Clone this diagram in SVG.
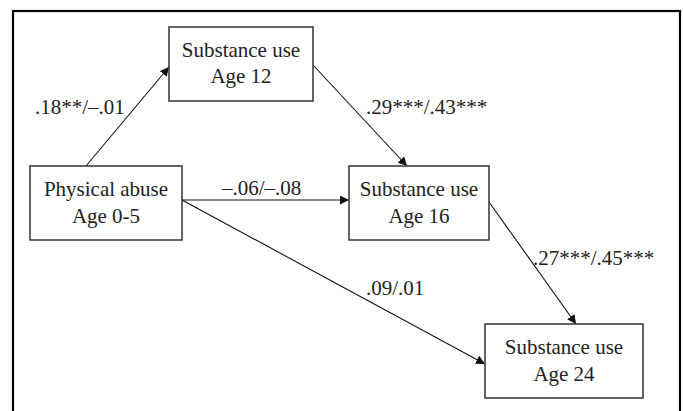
<svg xmlns="http://www.w3.org/2000/svg" width="683" height="411" viewBox="0 0 683 411">
<defs>
<marker id="ah" viewBox="0 0 10 10" refX="10" refY="5" markerWidth="9" markerHeight="9" markerUnits="userSpaceOnUse" orient="auto">
<path d="M0,0 L10,5 L0,10 Z" fill="#111"/>
</marker>
<style>
.box{fill:#fff;stroke:#333;stroke-width:1.5}
text{font-family:"Liberation Serif","Times New Roman","DejaVu Serif",serif;font-size:21px;fill:#222}
.t{text-anchor:middle}
.edge{stroke:#111;stroke-width:1.1;fill:none;marker-end:url(#ah)}
</style>
</defs>
<rect width="683" height="411" fill="#fff"/>
<rect x="13" y="11" width="667" height="420" fill="none" stroke="#000" stroke-width="2.2"/>
<g id="connectors">
<line class="edge" x1="86" y1="166" x2="169" y2="67"/>
<line class="edge" x1="313" y1="65" x2="407" y2="166"/>
<line class="edge" x1="182" y1="200" x2="349" y2="200"/>
<line class="edge" x1="182" y1="200" x2="485" y2="364"/>
<line class="edge" x1="489" y1="202" x2="576" y2="324"/>
</g>
<g id="labels" font-family="Liberation Serif, serif">
<text x="35" y="114">.18**/–.01</text>
<text x="366" y="114">.29***/.43***</text>
<text x="222" y="195">–.06/–.08</text>
<text x="533" y="265">.27***/.45***</text>
<text x="366" y="295">.09/.01</text>
</g>
<g id="n-age12" font-family="Liberation Serif, serif">
<rect class="box" x="169" y="27" width="144" height="74"/>
<text class="t" x="241" y="57">Substance use</text>
<text class="t" x="241" y="83">Age 12</text>
</g>
<g id="n-abuse" font-family="Liberation Serif, serif">
<rect class="box" x="30" y="166" width="152" height="74"/>
<text class="t" x="106" y="196">Physical abuse</text>
<text class="t" x="106" y="223">Age 0-5</text>
</g>
<g id="n-age16" font-family="Liberation Serif, serif">
<rect class="box" x="349" y="166" width="140" height="74"/>
<text class="t" x="419" y="196">Substance use</text>
<text class="t" x="419" y="223">Age 16</text>
</g>
<g id="n-age24" font-family="Liberation Serif, serif">
<rect class="box" x="485" y="324" width="158" height="74"/>
<text class="t" x="564" y="354">Substance use</text>
<text class="t" x="564" y="381">Age 24</text>
</g>
</svg>
